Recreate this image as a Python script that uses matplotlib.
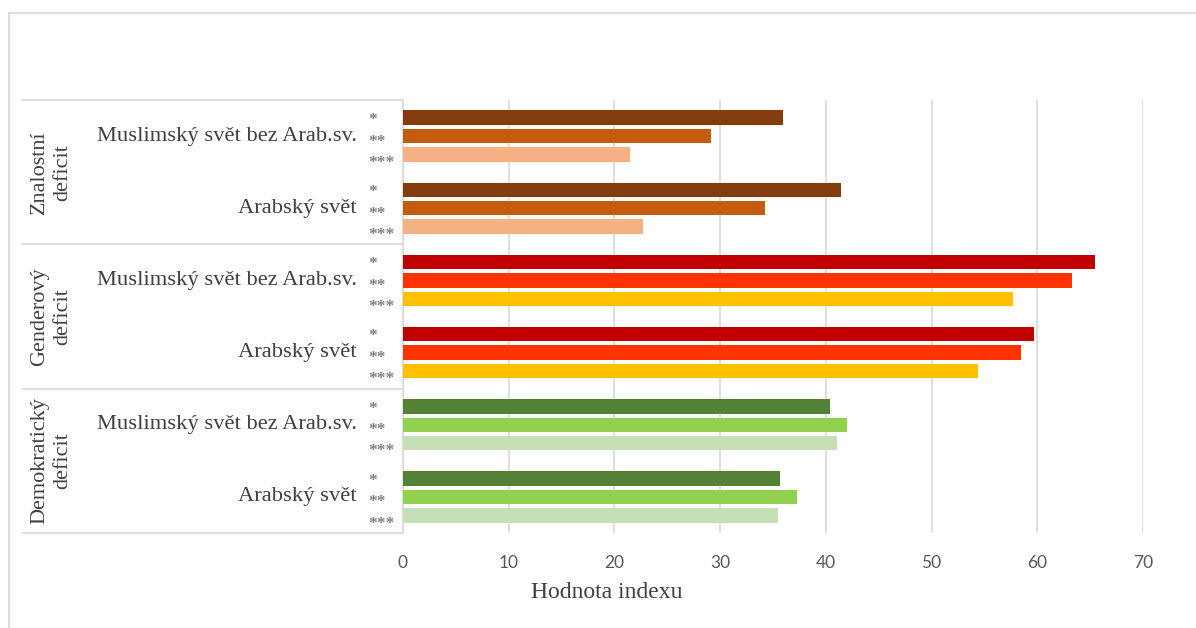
import matplotlib
matplotlib.use("Agg")
import matplotlib.pyplot as plt
from matplotlib.lines import Line2D
import matplotlib.transforms as mtransforms

# ---- data ----
deficits = ["Znalostní\ndeficit", "Genderový\ndeficit", "Demokratický\ndeficit"]
regions = ["Muslimský svět bez Arab.sv.", "Arabský svět"]
stars = ["*", "**", "***"]

znalostni = [[35.9, 29.1, 21.5], [41.4, 34.2, 22.7]]
genderovy = [[65.5, 63.3, 57.7], [59.7, 58.5, 54.4]]
demokraticky = [[40.4, 42.0, 41.1], [35.7, 37.3, 35.5]]
values = [znalostni, genderovy, demokraticky]

colors = [
    ["#843C0C", "#C55A11", "#F4B183"],
    ["#C00000", "#FF3300", "#FFC000"],
    ["#548235", "#92D050", "#C5E0B4"],
]
xticks = [0, 10, 20, 30, 40, 50, 60, 70]
xlabel = "Hodnota indexu"

# ---- figure ----
W, H = 1196, 628
fig = plt.figure(figsize=(W / 100, H / 100), dpi=100)
fig.patch.set_facecolor("white")

left_px, right_px, top_px, bot_px = 403, 1143, 100, 533
ax = fig.add_axes([left_px / W, 1 - bot_px / H,
                   (right_px - left_px) / W, (bot_px - top_px) / H])

serif = "Liberation Serif"
txt_col = "#404040"
grid_col = "#D9D9D9"

bar_off = [-0.255, 0.0, 0.255]
star_off = [-0.30, 0.0, 0.295]
bar_h = 0.2

trans = mtransforms.blended_transform_factory(ax.transAxes, ax.transData)
star_trans = trans + mtransforms.ScaledTranslation(0, -6.8 / 72, fig.dpi_scale_trans)

for g, (dname, gvals) in enumerate(zip(deficits, values)):
    for r, (rname, rvals) in enumerate(zip(regions, gvals)):
        center = g * 2 + r + 0.5
        for s, v in enumerate(rvals):
            ax.barh(center + bar_off[s], v, height=bar_h,
                    color=colors[g][s], edgecolor="none", zorder=3)
            ax.text(-0.047, center + star_off[s], stars[s], transform=star_trans,
                    ha="left", va="baseline", fontsize=12.5, color="#7F7F7F",
                    family=serif, fontweight="bold")
        ax.text(-0.062, center, rname, transform=trans, ha="right",
                va="center", fontsize=16.2, color=txt_col, family=serif)
    ax.text(-(403 - 51) / 740, g * 2 + 1, dname, transform=trans,
            rotation=90, ha="center", va="center", fontsize=16,
            color=txt_col, family=serif, multialignment="center",
            linespacing=1.3)

# separators in category area
for yb in [0, 2, 4, 6]:
    ax.plot([-(403 - 22) / 740, 0], [yb, yb], transform=trans,
            color=grid_col, lw=1.2, clip_on=False, zorder=1)

ax.set_xlim(0, 70)
ax.set_ylim(6, 0)
ax.set_xticks(xticks)
ax.set_xticklabels([str(t) for t in xticks], family="Lato", fontsize=12.5,
                   color="#595959")
ax.set_yticks([])
ax.tick_params(axis="x", length=0, pad=16)
ax.grid(axis="x", color=grid_col, lw=1.2, zorder=0)
for sp in ["top", "right", "bottom"]:
    ax.spines[sp].set_visible(False)
ax.spines["left"].set_color(grid_col)
ax.spines["left"].set_linewidth(1.2)

fig.text(607 / W, 1 - 592 / H, xlabel, ha="center", va="center",
         fontsize=17, color=txt_col, family=serif)

# outer frame (left and top only visible)
fig.add_artist(Line2D([9 / W, 9 / W], [0, 1 - 13 / H], transform=fig.transFigure,
                      color=grid_col, lw=1.2))
fig.add_artist(Line2D([9 / W, 1], [1 - 13 / H, 1 - 13 / H], transform=fig.transFigure,
                      color=grid_col, lw=1.2))

fig.savefig("out.png", dpi=100)
